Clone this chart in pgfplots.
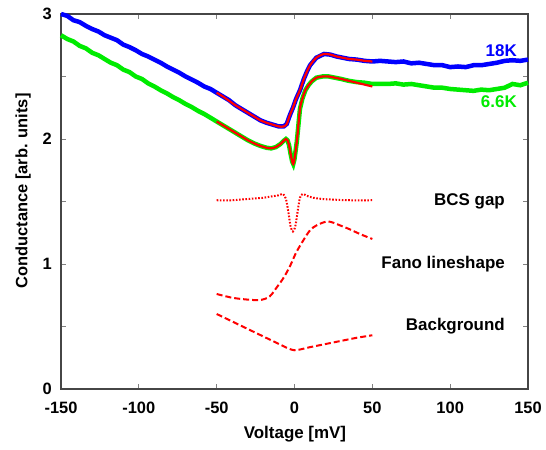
\documentclass[border=0pt]{standalone}
\usepackage{fontspec}
\setmainfont{Liberation Sans}
\usepackage{pgfplots}
\pgfplotsset{compat=1.18}
\definecolor{myblue}{RGB}{0,0,255}
\definecolor{mygreen}{RGB}{0,235,0}
\definecolor{myred}{RGB}{255,0,0}
\definecolor{axgray}{RGB}{70,70,70}
\begin{document}
\begin{tikzpicture}
\begin{axis}[
  scale only axis, width=467bp, height=375bp,
  xmin=-150, xmax=150, ymin=0, ymax=3,
  xtick={-150,-100,...,150},
  ytick={0,1,2,3}, minor ytick={0.5,1.5,2.5},
  tick align=inside, major tick length=5bp, minor tick length=5bp,
  every tick/.style={gray, line width=0.9bp},
  axis line style={axgray, line width=1.3bp},
  /pgf/number format/assume math mode=true,
  tick label style={font=\fontsize{16.5}{18}\selectfont\bfseries, inner sep=0pt},
  xticklabel shift=13bp, yticklabel shift=9bp,
  xlabel={Voltage [mV]}, ylabel={Conductance [arb. units]},
  xlabel style={font=\fontsize{17}{19}\selectfont\bfseries, at={(axis description cs:0.501,-0.1307)}, anchor=base, inner sep=0pt},
  ylabel style={font=\fontsize{16.5}{19}\selectfont\bfseries, at={(axis description cs:-0.0722,0.528)}, anchor=base, rotate=0, inner sep=0pt},
  clip=false,
]
% 18K data
\addplot[myblue, line width=4.5bp] coordinates {
(-150,3.00)(-146,2.985)(-142,2.95)(-138,2.935)(-134,2.905)(-130,2.88)(-126,2.86)(-122,2.83)(-118,2.81)(-114,2.79)(-110,2.755)(-106,2.735)(-102,2.71)(-98,2.68)(-94,2.66)(-90,2.635)(-86,2.61)(-82,2.58)(-78,2.555)(-74,2.53)(-70,2.50)(-66,2.475)(-62,2.45)(-58,2.42)(-54,2.40)(-50,2.37)
(-46,2.34)(-42,2.31)(-38,2.27)(-34,2.24)(-30,2.21)(-26,2.18)(-22,2.15)(-18,2.13)(-14,2.115)(-10,2.10)(-7,2.10)(-5,2.12)(-3,2.19)(-1,2.25)(1,2.32)(3.5,2.39)(6,2.48)(8,2.54)(10,2.59)(14,2.65)(19,2.68)(23,2.675)(27,2.66)(31,2.65)(35,2.64)(40,2.635)(45,2.625)(50,2.62)
(55,2.625)(60,2.62)(65,2.615)(70,2.62)(75,2.605)(80,2.61)(85,2.60)(90,2.59)(95,2.59)(100,2.575)(105,2.58)(110,2.575)(115,2.59)(120,2.59)(125,2.60)(130,2.61)(135,2.625)(140,2.63)(145,2.625)(150,2.635)};
% 6.6K data
\addplot[mygreen, line width=4.5bp] coordinates {
(-150,2.83)(-146,2.80)(-142,2.78)(-138,2.745)(-134,2.725)(-130,2.69)(-126,2.67)(-122,2.64)(-118,2.61)(-114,2.59)(-110,2.555)(-106,2.535)(-102,2.50)(-98,2.48)(-94,2.445)(-90,2.42)(-86,2.39)(-82,2.365)(-78,2.335)(-74,2.31)(-70,2.28)(-66,2.255)(-62,2.225)(-58,2.20)(-54,2.17)(-50,2.14)
(-46,2.11)(-42,2.08)(-38,2.05)(-34,2.02)(-30,1.99)(-26,1.965)(-22,1.945)(-18,1.93)(-15,1.925)(-12,1.935)(-9,1.96)(-7,1.985)(-5.5,2.00)(-4.5,1.99)(-3.5,1.95)(-2.5,1.88)(-1.5,1.82)(-0.8,1.80)(0,1.84)(1.5,1.98)(3.5,2.24)(5,2.32)(7,2.39)(9,2.43)(11,2.46)(14,2.49)(18,2.50)(22,2.50)(26,2.49)(30,2.48)(35,2.465)(40,2.455)(45,2.45)(50,2.44)
(55,2.44)(60,2.44)(65,2.445)(70,2.435)(75,2.44)(80,2.43)(85,2.42)(90,2.41)(95,2.41)(100,2.40)(105,2.395)(110,2.39)(115,2.385)(120,2.395)(125,2.39)(130,2.40)(135,2.41)(140,2.44)(145,2.43)(150,2.45)};
% fits
\addplot[myred, line width=2.2bp, smooth] coordinates {
(-50,2.37)(-46,2.34)(-42,2.305)(-38,2.27)(-34,2.24)(-30,2.21)(-26,2.18)(-22,2.15)(-18,2.13)(-14,2.115)(-10,2.10)(-7,2.10)(-5,2.12)(-3,2.19)(-1,2.25)(1,2.32)(3.5,2.39)(6,2.48)(8,2.54)(10,2.59)(14,2.65)(19,2.68)(23,2.675)(27,2.66)(31,2.65)(35,2.64)(40,2.635)(45,2.625)(50,2.62)};
\addplot[myred, line width=2.2bp, smooth] coordinates {
(-50,2.14)(-46,2.11)(-42,2.08)(-38,2.05)(-34,2.02)(-30,1.99)(-26,1.965)(-22,1.945)(-18,1.93)(-15,1.925)(-12,1.935)(-9,1.96)(-7,1.985)(-5.5,2.00)(-4.5,1.99)(-3.5,1.95)(-2.5,1.88)(-1.5,1.82)(-0.8,1.80)(0,1.84)(1.5,1.98)(3.5,2.24)(5,2.32)(7,2.39)(9,2.43)(11,2.46)(14,2.49)(18,2.50)(22,2.50)(26,2.49)(30,2.48)(35,2.465)(40,2.45)(45,2.435)(50,2.42)};
% components
\addplot[myred, line width=2bp, dash pattern=on 1.6bp off 1.6bp, smooth] coordinates {
(-50,1.51)(-40,1.51)(-30,1.52)(-20,1.53)(-15,1.54)(-10,1.55)(-7.4,1.56)(-5.5,1.52)(-4,1.42)(-2.5,1.30)(-1,1.26)(0.5,1.30)(2,1.42)(3.5,1.53)(5.3,1.56)(8,1.545)(12,1.53)(18,1.52)(25,1.515)(35,1.51)(50,1.51)};
\addplot[myred, line width=2bp, dash pattern=on 6bp off 3bp, smooth] coordinates {
(-50,0.76)(-40,0.73)(-30,0.715)(-22,0.712)(-16,0.74)(-11,0.82)(-7,0.89)(-3,0.98)(1,1.09)(5.7,1.19)(10,1.27)(14.3,1.31)(20.7,1.34)(25,1.33)(29,1.31)(35,1.28)(42,1.24)(50,1.20)};
\addplot[myred, line width=2bp, dash pattern=on 6bp off 3bp] coordinates {
(-50,0.60)(-40,0.54)(-30,0.48)(-20,0.42)(-10,0.36)(-5,0.33)(-2,0.315)(0,0.31)(2,0.312)(5,0.32)(10,0.335)(20,0.36)(30,0.385)(40,0.41)(50,0.43)};
% labels
\node[anchor=base east, inner sep=0pt, font=\fontsize{17}{19}\selectfont\bfseries, text=myblue] at (axis cs:142.9,2.658) {18K};
\node[anchor=base east, inner sep=0pt, font=\fontsize{17}{19}\selectfont\bfseries, text=mygreen] at (axis cs:142.9,2.253) {6.6K};
\node[anchor=base east, inner sep=0pt, font=\fontsize{17}{19}\selectfont\bfseries] at (axis cs:135.2,1.466) {BCS gap};
\node[anchor=base east, inner sep=0pt, font=\fontsize{17}{19}\selectfont\bfseries] at (axis cs:135.2,0.965) {Fano lineshape};
\node[anchor=base east, inner sep=0pt, font=\fontsize{17}{19}\selectfont\bfseries] at (axis cs:135.2,0.466) {Background};
\coordinate (bbSW) at (rel axis cs:-0.1306,-0.16);
\coordinate (bbNE) at (rel axis cs:1.0385,1.0373);
\end{axis}
\pgfresetboundingbox
\path (bbSW) rectangle (bbNE);
\end{tikzpicture}
\end{document}
